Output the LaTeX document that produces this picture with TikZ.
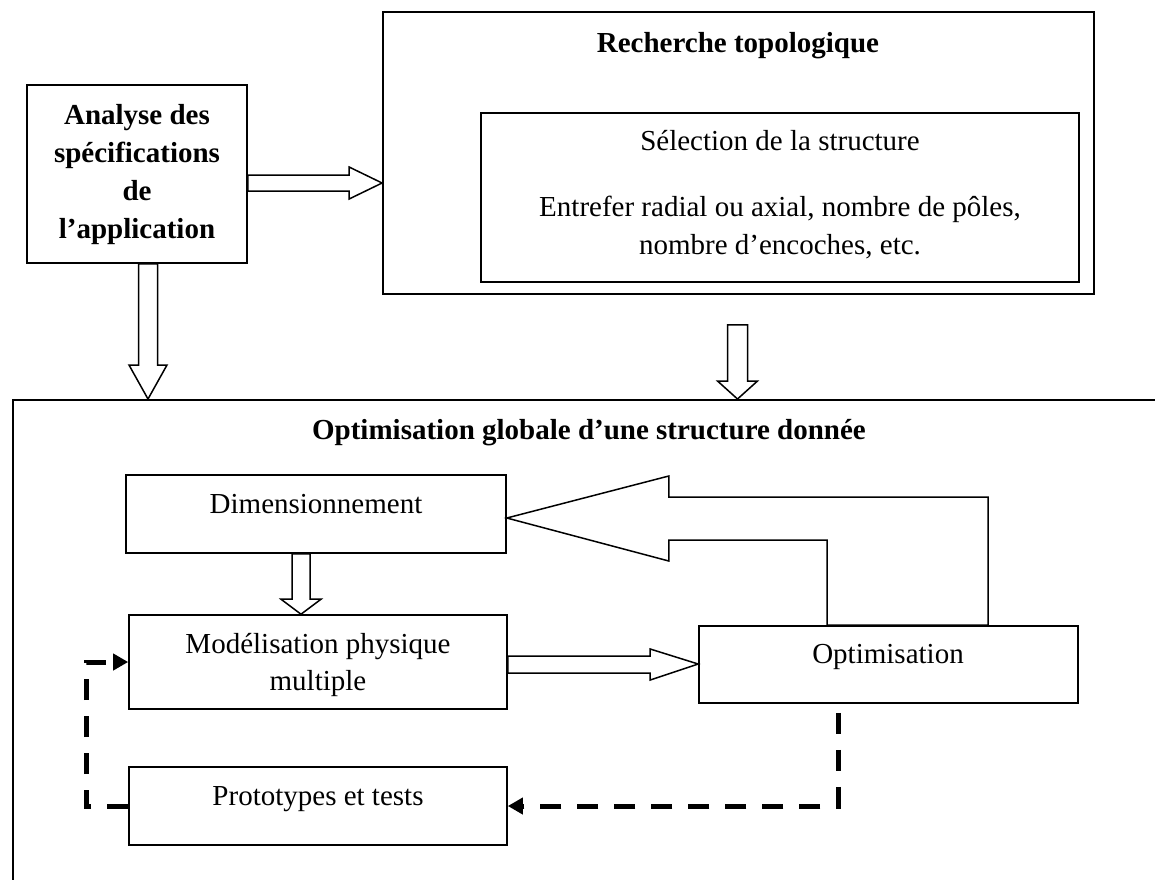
\documentclass[tikz,border=0pt]{standalone}
\usepackage{fontspec}
\setmainfont{Liberation Serif}
\usetikzlibrary{calc,arrows.meta}
\begin{document}
\begin{tikzpicture}[x=1pt,y=-1pt,
  box/.style={draw,line width=1.6pt,inner sep=0pt,fill=none},
  txt/.style={font=\fontsize{29}{38}\selectfont,inner sep=0pt,anchor=base},
  btxt/.style={font=\fontsize{29}{38}\selectfont\bfseries,inner sep=0pt,anchor=base},
  hollow/.style={draw,line width=1.5pt,fill=white,line join=miter},
  fb/.style={line width=5pt,dash pattern=on 21pt off 16pt,-{Triangle[length=15pt,width=16pt]}}
]
\useasboundingbox (0,0) rectangle (1155,879);

% boxes
\node[box,minimum width=220pt,minimum height=178pt] (ana) at (137,174) {};
\node[box,line width=1.8pt,minimum width=711pt,minimum height=282pt] (rech) at (738.5,153) {};
\node[box,minimum width=598pt,minimum height=169pt] (sel) at (780,197.5) {};
\node[box,minimum width=1154pt,minimum height=540pt,anchor=north west] (glob) at (12,399) {};
\node[box,minimum width=380pt,minimum height=78pt] (dim) at (316,514) {};
\node[box,minimum width=378pt,minimum height=94pt] (mod) at (318,662) {};
\node[box,minimum width=379pt,minimum height=77pt] (opt) at (888.5,664.5) {};
\node[box,minimum width=378pt,minimum height=78pt] (proto) at (318,806) {};

% texts
\node[btxt] (anaA) at (137,124) {Analyse des};
\node[btxt] (anaB) at (137,162) {spécifications};
\node[btxt] (anaC) at (137,200) {de};
\node[btxt] (anaD) at (137,238) {l’application};
\node[btxt] (rechT) at (738,52) {Recherche topologique};
\node[txt] (selA) at (780,150) {Sélection de la structure};
\node[txt] (selB) at (780,216) {Entrefer radial ou axial, nombre de pôles,};
\node[txt] (selC) at (780,254) {nombre d’encoches, etc.};
\node[btxt] (globT) at (589,439) {Optimisation globale d’une structure donnée};
\node[txt] (dimT) at (316,513) {Dimensionnement};
\node[txt] (modA) at (318,653) {Modélisation physique};
\node[txt] (modB) at (318,690) {multiple};
\node[txt] (optT) at (888,663) {Optimisation};
\node[txt] (protoT) at (318,805) {Prototypes et tests};

% block arrow: Analyse -> Recherche
\coordinate (a1) at ($(ana.east)+(0,9)$);
\coordinate (a1t) at (rech.west |- a1);
\draw[hollow] ($(a1)+(0,-8)$) -- ($(a1t)+(-33,-8)$) -- ($(a1t)+(-33,-16)$) -- (a1t)
  -- ($(a1t)+(-33,16)$) -- ($(a1t)+(-33,8)$) -- ($(a1)+(0,8)$) -- cycle;

% block arrow: Analyse -> global box
\coordinate (a2) at ($(ana.south)+(11,0)$);
\coordinate (a2t) at (a2 |- glob.north);
\draw[hollow] ($(a2)+(-9.5,0)$) -- ($(a2t)+(-9.5,-34)$) -- ($(a2t)+(-19,-34)$) -- (a2t)
  -- ($(a2t)+(19,-34)$) -- ($(a2t)+(9.5,-34)$) -- ($(a2)+(9.5,0)$) -- cycle;

% block arrow: Recherche -> global box
\coordinate (a3) at ($(rech.south)+(-1,30)$);
\coordinate (a3t) at (a3 |- glob.north);
\draw[hollow] ($(a3)+(-10,0)$) -- ($(a3t)+(-10,-18)$) -- ($(a3t)+(-20,-18)$) -- (a3t)
  -- ($(a3t)+(20,-18)$) -- ($(a3t)+(10,-18)$) -- ($(a3)+(10,0)$) -- cycle;

% block arrow: Dimensionnement -> Modelisation
\coordinate (a4) at ($(dim.south)+(-15,0)$);
\coordinate (a4t) at (a4 |- mod.north);
\draw[hollow] ($(a4)+(-9,0)$) -- ($(a4t)+(-9,-15)$) -- ($(a4t)+(-20,-15)$) -- (a4t)
  -- ($(a4t)+(20,-15)$) -- ($(a4t)+(9,-15)$) -- ($(a4)+(9,0)$) -- cycle;

% block arrow: Modelisation -> Optimisation
\coordinate (a5) at ($(mod.east)+(0,2)$);
\coordinate (a5t) at (opt.west |- a5);
\draw[hollow] ($(a5)+(0,-8)$) -- ($(a5t)+(-48,-8)$) -- ($(a5t)+(-48,-15)$) -- (a5t)
  -- ($(a5t)+(-48,16)$) -- ($(a5t)+(-48,9)$) -- ($(a5)+(0,9)$) -- cycle;

% big block arrow: Optimisation -> Dimensionnement
\coordinate (bt) at ($(dim.east)+(0,4)$);
\coordinate (bl) at ($(opt.north west)+(129,0)$);
\coordinate (br) at ($(opt.north west)+(290,0)$);
\draw[hollow] (bt) -- ($(bt)+(162,-42)$) -- ($(bt)+(162,-21)$) -- (br |- 0,497) -- (br)
  -- (bl) -- (bl |- 0,540) -- ($(bt)+(162,22)$) -- ($(bt)+(162,43)$) -- cycle;

% dashed feedback arrows
\coordinate (od) at ($(opt.south west)+(140,9)$);
\draw[fb] (od) |- (proto.east);
\draw[fb] (proto.west) -- ++(-42,0) |- (mod.west);
\end{tikzpicture}
\end{document}
